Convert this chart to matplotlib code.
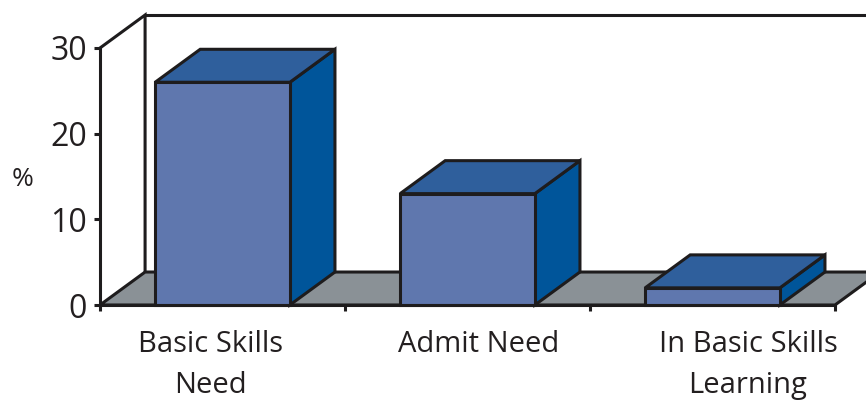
import matplotlib
matplotlib.use("Agg")
import matplotlib.pyplot as plt
from matplotlib.patches import Polygon

plt.rcParams['font.family'] = ['Open Sans', 'DejaVu Sans']

categories = ["Basic Skills\nNeed", "Admit Need", "In Basic Skills\nLearning"]
values = [26, 13, 2]
y_ticks = [0, 10, 20, 30]

# Oblique depth of the 3-D frame, in data units
DX = 0.184
DY = 3.85
BAR_W = 0.55
LW = 2.2
EDGE = "#1e1c1d"
FRONT = "#5f77ae"
TOP = "#2f5f9c"
SIDE = "#00559a"
FLOOR = "#8a9196"
TEXT = "#231f20"
# horizontal shift of each category caption relative to its slot
LABEL_SHIFT = [-0.05, 0.045, 0.145]

fig = plt.figure(figsize=(8.66, 4.04), dpi=100)
ax = fig.add_axes([100 / 866, 99 / 404, 735 / 866, 257 / 404])
ax.set_xlim(-0.5, 2.5)
ax.set_ylim(0, 30)

x0, x1 = -0.5, len(categories) - 0.5
ymax = y_ticks[-1]

# back wall outline
ax.plot([x0, x0 + DX, x0 + DX], [ymax, ymax + DY, DY], color=EDGE, lw=LW,
        clip_on=False, solid_joinstyle="miter", zorder=2)
ax.plot([x0 + DX, x1 + DX], [ymax + DY, ymax + DY], color=EDGE, lw=LW,
        clip_on=False, zorder=2)

# floor
ax.add_patch(Polygon([(x0, 0), (x0 + DX, DY), (x1 + DX, DY), (x1, 0)],
                     closed=True, facecolor=FLOOR, edgecolor=EDGE, lw=LW,
                     joinstyle="miter", clip_on=False, zorder=3))

# bars
for i, v in enumerate(values):
    l, r = i - BAR_W / 2, i + BAR_W / 2
    side = [(r, 0), (r + DX, DY), (r + DX, v + DY), (r, v)]
    top = [(l, v), (l + DX, v + DY), (r + DX, v + DY), (r, v)]
    front = [(l, 0), (l, v), (r, v), (r, 0)]
    for pts, fc in ((side, SIDE), (top, TOP), (front, FRONT)):
        ax.add_patch(Polygon(pts, closed=True, facecolor=fc, edgecolor=EDGE,
                             lw=LW, joinstyle="miter", clip_on=False, zorder=4))

# axes styling
for s in ("top", "right"):
    ax.spines[s].set_visible(False)
for s in ("left", "bottom"):
    ax.spines[s].set_linewidth(LW)
    ax.spines[s].set_color(EDGE)
    ax.spines[s].set_zorder(5)

ax.set_yticks(y_ticks)
ax.set_yticklabels([str(t) for t in y_ticks])
ax.tick_params(axis="y", direction="out", length=4.5, width=LW, color=EDGE,
               labelsize=23, labelcolor=TEXT, pad=5)

ax.set_xticks([x0 + k for k in range(len(categories) + 1)])
ax.set_xticklabels([""] * (len(categories) + 1))
ax.tick_params(axis="x", which="major", direction="out", length=4.5,
               width=LW, color=EDGE)
ax.set_xticks([i + s for i, s in enumerate(LABEL_SHIFT)], minor=True)
ax.set_xticklabels(categories, minor=True, fontsize=21, color=TEXT,
                   linespacing=1.55)
ax.tick_params(axis="x", which="minor", length=0, pad=18)

ax.set_ylabel("%", rotation=0, fontsize=19, color=TEXT, va="center")
ax.yaxis.set_label_coords(-0.106, 0.49)

ax.set_facecolor("none")
fig.savefig("out.png", dpi=100)
